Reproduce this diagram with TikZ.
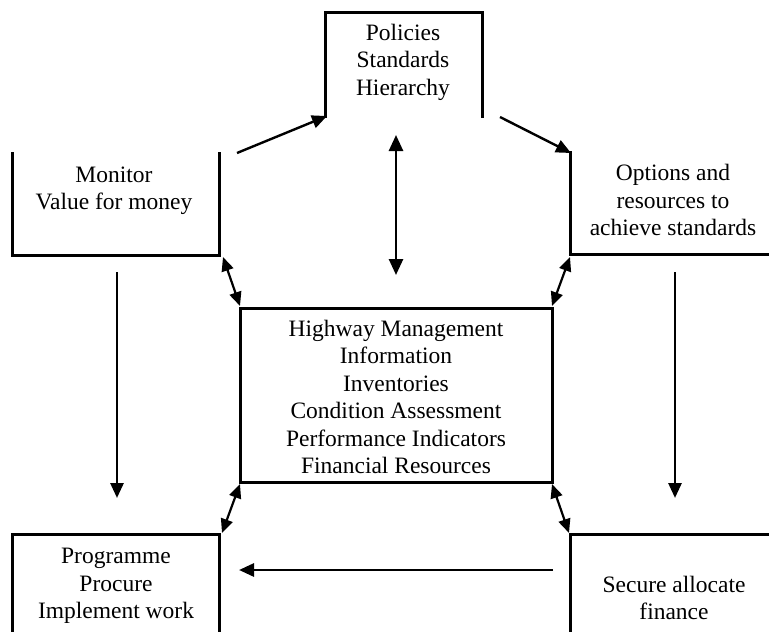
\documentclass[tikz,border=0pt]{standalone}
\usepackage{fontspec}
\setmainfont{Liberation Serif}
\usetikzlibrary{arrows.meta}
\begin{document}
\begin{tikzpicture}[x=1pt,y=-1pt,
  boxline/.style={line width=3pt, line cap=rect},
  conn/.style={line width=2.4pt, -{Triangle[length=15pt,width=13pt]}},
  dconn/.style={line width=2.2pt, {Triangle[length=14pt,width=12pt]}-{Triangle[length=14pt,width=12pt]}},
  lbl/.style={align=center, font=\fontsize{23.5}{27.5}\selectfont, inner sep=0pt}]
\useasboundingbox (0,0) rectangle (769,632);
% corner coordinates
\coordinate (pTL) at (325,12); \coordinate (pTR) at (482,12);
\coordinate (pBL) at (325,116); \coordinate (pBR) at (482,116);
\coordinate (mTL) at (12,153); \coordinate (mBL) at (12,255);
\coordinate (mBR) at (219,255); \coordinate (mTR) at (219,153);
\coordinate (oTL) at (570,152); \coordinate (oBL) at (570,254);
\coordinate (oBR) at (769,254);
\coordinate (cTL) at (240,308); \coordinate (cBR) at (552,482);
\coordinate (cTR) at (552,308); \coordinate (cBL) at (240,482);
\coordinate (gTL) at (12,534); \coordinate (gTR) at (219,534);
\coordinate (gBL) at (12,632); \coordinate (gBR) at (219,632);
\coordinate (sTL) at (570,534); \coordinate (sTR) at (769,534);
\coordinate (sBL) at (570,632);
% box outlines
\draw[boxline] (pBL) -- (pTL) -- (pTR) -- (pBR);
\draw[boxline] (mTL) -- (mBL) -- (mBR) -- (mTR);
\draw[boxline] (oTL) -- (oBL) -- (oBR);
\draw[boxline] (cTL) rectangle (cBR);
\draw[boxline] (gBL) -- (gTL) -- (gTR) -- (gBR);
\draw[boxline] (sBL) -- (sTL) -- (sTR);
% labels
\node[lbl] (pol) at (403,62) {Policies\\Standards\\Hierarchy};
\node[lbl] (mon) at (114,191) {Monitor\\Value for money};
\node[lbl] (opt) at (673,200) {Options and\\resources to\\achieve standards};
\node[lbl] (hm) at (396,397) {Highway Management\\Information\\Inventories\\Condition Assessment\\Performance Indicators\\Financial Resources};
\node[lbl] (prg) at (116,586) {Programme\\Procure\\Implement work};
\node[lbl] (sec) at (674,598) {Secure allocate\\finance};
% free ends
\coordinate (a1s) at (237,153); \coordinate (a1e) at (327,116);
\coordinate (a2s) at (500,117); \coordinate (a2e) at (571,153);
\coordinate (vt) at (396,135); \coordinate (vb) at (396,275);
\coordinate (d1a) at (223,257); \coordinate (d1b) at (240,306);
\coordinate (d2a) at (570,257); \coordinate (d2b) at (552,306);
\coordinate (d3a) at (240,484); \coordinate (d3b) at (222,533);
\coordinate (d4a) at (552,484); \coordinate (d4b) at (569,533);
\coordinate (l1s) at (117,272); \coordinate (l1e) at (117,498);
\coordinate (r1s) at (675,272); \coordinate (r1e) at (675,498);
\coordinate (hs) at (553,570); \coordinate (he) at (239,570);
% connectors
\draw[conn] (a1s) -- (a1e);
\draw[conn] (a2s) -- (a2e);
\draw[line width=2.6pt, {Triangle[length=16pt,width=14pt]}-{Triangle[length=16pt,width=14pt]}] (vt) -- (vb);
\draw[dconn] (d1a) -- (d1b);
\draw[dconn] (d2a) -- (d2b);
\draw[dconn] (d3a) -- (d3b);
\draw[dconn] (d4a) -- (d4b);
\draw[conn, line width=2.8pt] (l1s) -- (l1e);
\draw[conn, line width=2.8pt] (r1s) -- (r1e);
\draw[conn, line width=2.8pt] (hs) -- (he);
\end{tikzpicture}
\end{document}
